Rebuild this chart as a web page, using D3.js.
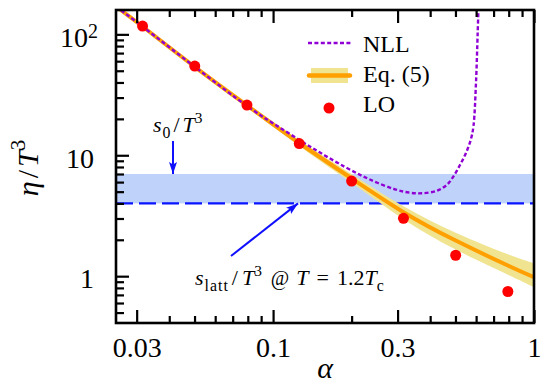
<!DOCTYPE html>
<html><head><meta charset="utf-8">
<script src="https://cdn.jsdelivr.net/npm/d3@7"></script>
<style>
body{margin:0;background:#fff}
svg{display:block}
svg text{font-family:"Liberation Serif","Times New Roman",serif;}
</style>
</head><body><svg id="c" width="550" height="387"></svg>
<script>
// ---------- data ----------
const xMajorTicks = [0.03, 0.1, 0.3, 1];
const xMajorLabels = ["0.03", "0.1", "0.3", "1"];
const xMinorTicks = [0.04, 0.05, 0.06, 0.07, 0.08, 0.09, 0.2, 0.4, 0.5, 0.6, 0.7, 0.8, 0.9];
const yMajorTicks = [1, 10, 100];
const yMajorLabels = [["1", ""], ["10", ""], ["10", "2"]];
const yMinorTicks = [0.5, 0.6, 0.7, 0.8, 0.9, 2, 3, 4, 5, 6, 7, 8, 9, 20, 30, 40, 50, 60, 70, 80, 90];

// LO points
const alphaLO = [0.0316, 0.0501, 0.0794, 0.126, 0.2, 0.316, 0.501, 0.794];
const etaLO   = [117, 54.7, 26.0, 12.5, 6.12, 3.01, 1.49, 0.747];

// Eq. (5) central curve and its band
const alphaEq = [0.025, 0.0316, 0.0501, 0.0794, 0.126, 0.2, 0.316, 0.501, 0.794, 1.0];
const etaEq   = [170, 116.1, 53.9, 25.9, 12.63, 6.43, 3.38, 1.97, 1.225, 0.979];
const etaEqHi = [173.4, 118.4, 55.5, 26.9, 13.4, 6.98, 3.79, 2.29, 1.52, 1.28];
const etaEqLo = [166.6, 113.8, 52.3, 24.9, 11.9, 5.92, 2.96, 1.66, 1.03, 0.81];

// NLL curve
const alphaNLL = [0.025, 0.0316, 0.0501, 0.0815, 0.1111, 0.1447, 0.1887, 0.2351, 0.2933, 0.3347, 0.3721, 0.4249, 0.4628, 0.4905, 0.5203, 0.5486, 0.5734, 0.5862, 0.5993, 0.6083, 0.6126];
const etaNLL   = [170, 116.1, 53.9, 24.6, 15.9, 11.15, 8.0, 6.3, 5.23, 4.90, 4.85, 5.09, 5.68, 6.65, 8.31, 10.44, 13.63, 17.46, 39.6, 102.6, 165];

// entropy band
const s0Range = [4, 7];
const sLatt = 4;

// legend
const legendNames = ["NLL", "Eq. (5)", "LO"];

// ---------- layout ----------
const svg = d3.select("#c");
const L = 116, R = 534, T = 10, B = 323;
const x = d3.scaleLog().domain([0.025, 1]).range([L, R]);
const y = d3.scaleLog().domain([0.41, 159]).range([B, T]);

const defs = svg.append("defs");
defs.append("clipPath").attr("id", "clip").append("rect")
  .attr("x", L).attr("y", T).attr("width", R - L).attr("height", B - T);
defs.append("marker").attr("id", "arr").attr("viewBox", "0 0 12 8")
  .attr("refX", 12).attr("refY", 4).attr("markerWidth", 12).attr("markerHeight", 8)
  .attr("markerUnits", "userSpaceOnUse").attr("orient", "auto")
  .append("path").attr("d", "M0,0 L12,4 L0,8 L2.5,4 Z").attr("fill", "#1010ff");

const plot = svg.append("g").attr("clip-path", "url(#clip)");

plot.append("rect").attr("x", L).attr("width", R - L)
  .attr("y", y(s0Range[1])).attr("height", y(s0Range[0]) - y(s0Range[1]))
  .attr("fill", "#bfd3fa");
plot.append("line").attr("x1", L).attr("x2", R).attr("y1", y(sLatt)).attr("y2", y(sLatt))
  .attr("stroke", "#0a14ff").attr("stroke-width", 2.2).attr("stroke-dasharray", "17,6");

const area = d3.area().x((d, i) => x(alphaEq[i])).y0((d, i) => y(etaEqLo[i])).y1((d, i) => y(etaEqHi[i]))
  .curve(d3.curveNatural);
plot.append("path").datum(alphaEq).attr("d", area).attr("fill", "#f0e491");
const lineEq = d3.line().x((d, i) => x(alphaEq[i])).y((d, i) => y(etaEq[i])).curve(d3.curveNatural);
plot.append("path").datum(alphaEq).attr("d", lineEq).attr("fill", "none")
  .attr("stroke", "#ffa000").attr("stroke-width", 4);

const lineNLL = d3.line().x((d, i) => x(alphaNLL[i])).y((d, i) => y(etaNLL[i])).curve(d3.curveCatmullRom.alpha(0.5));
plot.append("path").datum(alphaNLL).attr("d", lineNLL).attr("fill", "none")
  .attr("stroke", "#9000d4").attr("stroke-width", 2.4).attr("stroke-dasharray", "4,2.4");

svg.append("g").selectAll("circle").data(alphaLO).join("circle")
  .attr("cx", d => x(d)).attr("cy", (d, i) => y(etaLO[i])).attr("r", 5.5).attr("fill", "#ff0000");

// ---------- axes ----------
const xAxB = svg.append("g").attr("transform", `translate(0,${B})`)
  .call(d3.axisBottom(x).tickValues(xMajorTicks).tickSizeInner(-13).tickSizeOuter(0).tickPadding(14)
    .tickFormat((d, i) => xMajorLabels[i]));
svg.append("g").attr("transform", `translate(0,${B})`)
  .call(d3.axisBottom(x).tickValues(xMinorTicks).tickSizeInner(-7).tickSizeOuter(0).tickFormat(""));
svg.append("g").attr("transform", `translate(0,${T})`)
  .call(d3.axisTop(x).tickValues(xMajorTicks).tickSizeInner(-13).tickSizeOuter(0).tickFormat(""));
svg.append("g").attr("transform", `translate(0,${T})`)
  .call(d3.axisTop(x).tickValues(xMinorTicks).tickSizeInner(-7).tickSizeOuter(0).tickFormat(""));
const yAx = svg.append("g").attr("transform", `translate(${L},0)`)
  .call(d3.axisLeft(y).tickValues(yMajorTicks).tickSizeInner(-13).tickSizeOuter(0).tickPadding(22)
    .tickFormat(""));
svg.append("g").attr("transform", `translate(${L},0)`)
  .call(d3.axisLeft(y).tickValues(yMinorTicks).tickSizeInner(-8).tickSizeOuter(0).tickFormat(""));

svg.selectAll(".domain").remove();
svg.selectAll(".tick line").attr("stroke", "#000").attr("stroke-width", 2.2);
xAxB.selectAll("text").attr("font-size", 28).attr("fill", "#000");
yAx.selectAll(".tick").each(function (d, i) {
  const t = d3.select(this).append("text").attr("x", -22).attr("dy", "0.42em")
    .attr("text-anchor", "end").attr("font-size", 28).attr("fill", "#000");
  t.append("tspan").text(yMajorLabels[i][0]);
  if (yMajorLabels[i][1]) t.append("tspan").attr("dy", "-0.42em").attr("font-size", 20).text(yMajorLabels[i][1]);
  if (yMajorLabels[i][1]) t.attr("x", -18);
});

svg.append("rect").attr("x", L).attr("y", T).attr("width", R - L).attr("height", B - T)
  .attr("fill", "none").attr("stroke", "#000").attr("stroke-width", 2.6);

// ---------- math text helper ----------
function mathText(g, px, py, size, parts, anchor) {
  const t = g.append("text").attr("x", px).attr("y", py)
    .attr("font-size", size).attr("fill", "#000").attr("text-anchor", anchor || "start");
  let shift = 0;
  parts.forEach(([txt, kind, dx, fsz]) => {
    let target = 0, fs = size, style = "normal";
    if (kind === "i") style = "italic";
    if (kind === "sub") { target = 0.25 * size; fs = size * 0.72; }
    if (kind === "sup") { target = -0.42 * size; fs = size * 0.7; }
    if (fsz) fs = fsz;
    const ts = t.append("tspan").attr("dy", target - shift).attr("font-size", fs)
      .attr("font-style", style).text(txt);
    if (dx) ts.attr("dx", dx);
    shift = target;
  });
  return t;
}

mathText(svg, 325, 378, 30, [["α", "i"]], "middle");
const yl = svg.append("g").attr("transform", "translate(38,168) rotate(-90)");
mathText(yl, 0, 0, 30, [["η", "i"], ["/", "r", 3], ["T", "i", 3], ["3", "sup"]], "middle");

mathText(svg, 153, 132, 22, [["s", "i"], ["0", "sub", 1], ["/", "r", 3], ["T", "i", 3], ["3", "sup"]]);
const sl = mathText(svg, 195, 285, 22, [["s", "i"], ["latt", "sub", 1], ["/", "r", 3], ["T", "i", 4], ["3", "sup"],
  ["@", "r", 9, 20], ["T", "i", 7], ["=", "r", 8], ["1.2", "r", 8], ["T", "i"], ["c", "sub"]]);
sl.selectAll("tspan").filter((d, i) => i === 1).attr("letter-spacing", 1);

svg.append("line").attr("x1", 173).attr("y1", 141).attr("x2", 173).attr("y2", y(s0Range[1]))
  .attr("stroke", "#1010ff").attr("stroke-width", 2).attr("marker-end", "url(#arr)");
svg.append("line").attr("x1", 231).attr("y1", 256).attr("x2", 298).attr("y2", y(sLatt))
  .attr("stroke", "#1010ff").attr("stroke-width", 2).attr("marker-end", "url(#arr)");

// ---------- legend ----------
const lg = svg.append("g");
lg.append("line").attr("x1", 308).attr("x2", 351).attr("y1", 43).attr("y2", 43)
  .attr("stroke", "#9000d4").attr("stroke-width", 2.4).attr("stroke-dasharray", "4,2.4");
lg.append("rect").attr("x", 311).attr("y", 68).attr("width", 37).attr("height", 15).attr("fill", "#f0e491");
lg.append("line").attr("x1", 309).attr("x2", 350).attr("y1", 75.5).attr("y2", 75.5)
  .attr("stroke", "#ffa000").attr("stroke-width", 4.5).attr("stroke-linecap", "round");
lg.append("circle").attr("cx", 329).attr("cy", 108).attr("r", 5.5).attr("fill", "#ff0000");
const legendY = [52, 82, 112];
lg.selectAll("text").data(legendNames).join("text")
  .attr("x", 363).attr("y", (d, i) => legendY[i]).attr("font-size", 24)
  .attr("fill", "#000").text(d => d);
</script></body></html>
